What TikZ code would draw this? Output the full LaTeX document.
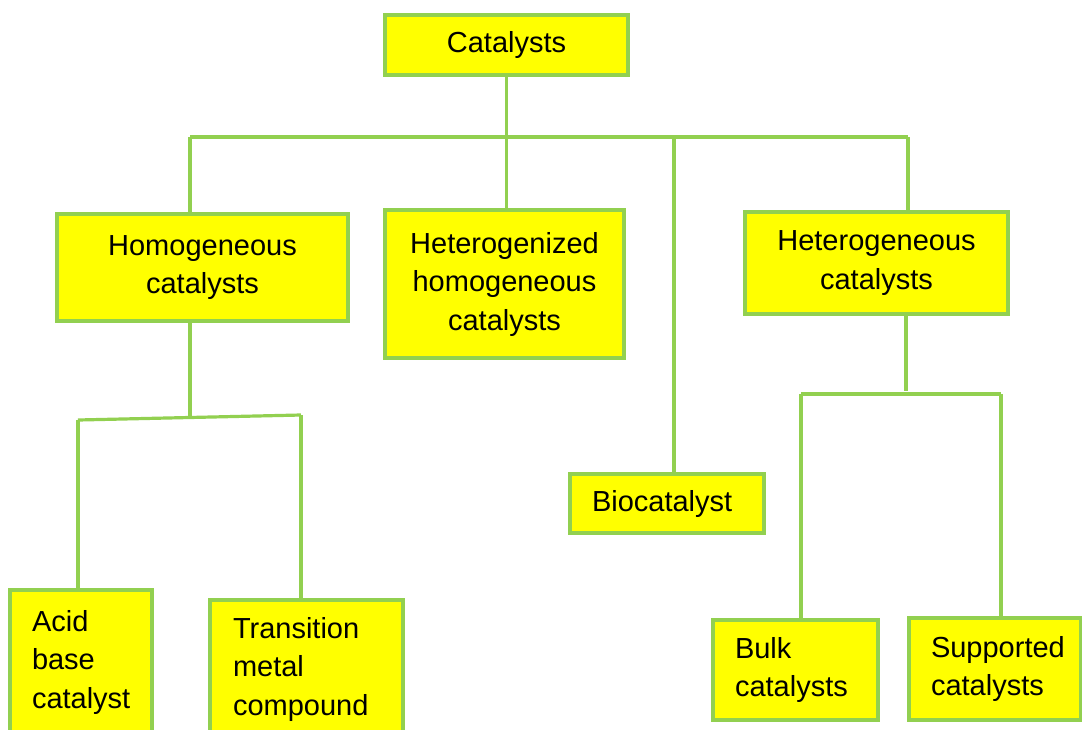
\documentclass[tikz,border=0pt]{standalone}
\usepackage{fontspec}
\setmainfont{Liberation Sans}
\usepackage{tikz}
\usepackage{xcolor}
\usetikzlibrary{positioning,calc}
\definecolor{boxYellow}{RGB}{255,255,0}
\definecolor{linkGreen}{RGB}{146,208,80}

\begin{document}
\begin{tikzpicture}[
            x=1pt, y=-1pt,
            box/.style={rectangle, draw=linkGreen, line width=3.4pt, fill=boxYellow, align=center, inner sep=0pt, font=\fontsize{29}{38.5}\selectfont},
            leftbox/.style={box, align=left, inner xsep=22pt},
            link/.style={draw=linkGreen, line width=3.2pt}
        ]
            \useasboundingbox (0,0) rectangle (1082,729);
            \clip (0,0) rectangle (1082,729);

            \node[box, minimum width=243pt, minimum height=60pt] (cat) at (506.5,45) {Catalysts};
            \node[box, minimum width=291pt, minimum height=107pt] (homo) at (202.5,267.5) {Homogeneous\\catalysts};
            \node[box, minimum width=239pt, minimum height=148pt] (hetzd) at (504.5,284) {Heterogenized\\homogeneous\\catalysts};
            \node[box, minimum width=263pt, minimum height=102pt] (hetero) at (876.5,263) {Heterogeneous\\catalysts};
            \node[leftbox, text width=150pt, minimum height=59pt] (bio) at (667,503.5) {Biocatalyst};
            \node[leftbox, text width=98pt, minimum height=144pt] (acid) at (81,662) {Acid\\base\\catalyst};
            \node[leftbox, text width=147pt, inner xsep=23pt, minimum height=138pt] (trans) at (306.5,669) {Transition\\metal\\compound};
            \node[leftbox, text width=121pt, minimum height=100pt] (bulk) at (795.5,670) {Bulk\\catalysts};
            \node[leftbox, text width=128pt, minimum height=102pt] (supp) at (995,669) {Supported\\catalysts};

            % top level
            \coordinate (busL) at (190,137);
            \coordinate (busR) at (908,137);
            \coordinate (bioTap) at (674,137);
            \draw[link] (cat.south) -- (cat.south |- busL);
            \draw[link] (busL) -- (busR);
            \draw[link] (busL) -- (busL |- homo.north);
            \draw[link] (cat.south |- busL) -- (cat.south |- hetzd.north);
            \draw[link] (bioTap) -- (bioTap |- bio.north);
            \draw[link] (busR) -- (busR |- hetero.north);

            % homogeneous branch
            \coordinate (homoJ) at (190,418);
            \coordinate (homoL) at (78,420);
            \coordinate (homoR) at (301,415);
            \draw[link] (homoJ |- homo.south) -- (homoJ);
            \draw[link] (homoL) -- (homoR);
            \draw[link] (homoL) -- (homoL |- acid.north);
            \draw[link] (homoR) -- (homoR |- trans.north);

            % heterogeneous branch
            \coordinate (heteroJ) at (906,391);
            \coordinate (heteroL) at (801,394);
            \coordinate (heteroR) at (1001,394);
            \draw[link] (heteroJ |- hetero.south) -- (heteroJ);
            \draw[link] (heteroL) -- (heteroR);
            \draw[link] (heteroL) -- (heteroL |- bulk.north);
            \draw[link] (heteroR) -- (heteroR |- supp.north);
        \end{tikzpicture}
\end{document}
